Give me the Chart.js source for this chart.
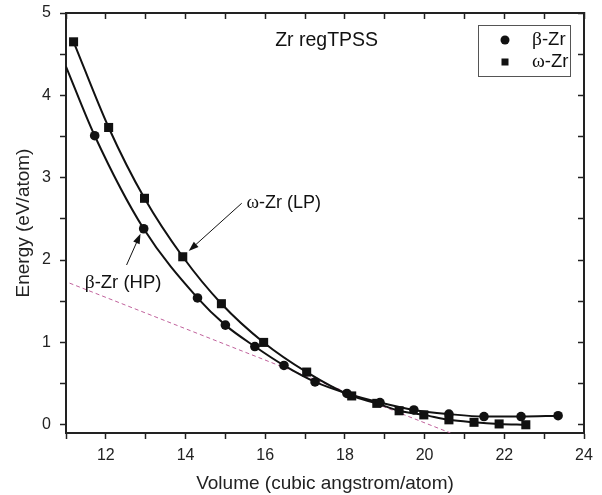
<!DOCTYPE html>
<html lang="en">
<head>
<meta charset="UTF-8">
<title>Zr regTPSS</title>
<script src="https://cdn.jsdelivr.net/npm/chart.js"></script>
<style>
  body { margin: 0; background: #fff; }
  #wrap { width: 602px; height: 495px; }
</style>
</head>
<body>
<div id="wrap"><canvas id="grafico" width="602" height="495"></canvas></div>
<script>
// beta-Zr (circles)
var betaV = [11.72, 12.95, 14.30, 15.00, 15.74, 16.47, 17.25, 18.05, 18.88, 19.73, 20.61, 21.49, 22.42, 23.35];
var betaE = [3.51, 2.38, 1.54, 1.21, 0.95, 0.72, 0.52, 0.38, 0.27, 0.18, 0.13, 0.10, 0.10, 0.11];
// omega-Zr (squares)
var omegaV = [11.19, 12.07, 12.97, 13.93, 14.90, 15.96, 17.04, 18.17, 18.80, 19.36, 19.98, 20.61, 21.24, 21.87, 22.54];
var omegaE = [4.65, 3.61, 2.75, 2.04, 1.47, 1.00, 0.64, 0.35, 0.26, 0.17, 0.12, 0.06, 0.03, 0.01, 0.00];
// fitted beta curve starts at the left axis
var betaCurveV = [11.0].concat(betaV);
var betaCurveE = [4.35].concat(betaE);
// dashed common tangent
var tangentV = [11.09, 20.65];
var tangentE = [1.72, -0.10];

var xTicks = [11, 12, 13, 14, 15, 16, 17, 18, 19, 20, 21, 22, 23, 24];
var xLabels = [12, 14, 16, 18, 20, 22, 24];
var yTicks = [0, 0.5, 1, 1.5, 2, 2.5, 3, 3.5, 4, 4.5, 5];
var yLabels = [0, 1, 2, 3, 4, 5];

function pares(vs, es) {
  var out = [];
  for (var i = 0; i < vs.length; i++) out.push({ x: vs[i], y: es[i] });
  return out;
}

var sans = '"Liberation Sans", Arial, sans-serif';
var serif = '"Liberation Serif", "Times New Roman", serif';
var corEixo = '#222';

// text with greek letters in serif, rest in sans
function textoMisto(ctx, partes, x, y, size) {
  var cx = x;
  ctx.textBaseline = 'middle';
  ctx.textAlign = 'left';
  for (var i = 0; i < partes.length; i++) {
    var p = partes[i];
    ctx.font = (p.g ? (size + 1) + 'px ' + serif : size + 'px ' + sans);
    ctx.fillText(p.t, cx, y);
    cx += ctx.measureText(p.t).width;
  }
}

function seta(ctx, x1, y1, x2, y2) {
  var ang = Math.atan2(y2 - y1, x2 - x1);
  var L = 10, W = 3.5;
  ctx.beginPath();
  ctx.moveTo(x1, y1);
  ctx.lineTo(x2 - L * 0.6 * Math.cos(ang), y2 - L * 0.6 * Math.sin(ang));
  ctx.lineWidth = 1;
  ctx.stroke();
  ctx.beginPath();
  ctx.moveTo(x2, y2);
  ctx.lineTo(x2 - L * Math.cos(ang) + W * Math.sin(ang), y2 - L * Math.sin(ang) - W * Math.cos(ang));
  ctx.lineTo(x2 - L * Math.cos(ang) - W * Math.sin(ang), y2 - L * Math.sin(ang) + W * Math.cos(ang));
  ctx.closePath();
  ctx.fill();
}

var anotacoes = {
  id: 'anotacoes',
  afterDatasetsDraw: function (chart) {
    var ctx = chart.ctx;
    var sx = chart.scales.x, sy = chart.scales.y;
    var px = function (v) { return sx.getPixelForValue(v); };
    var py = function (e) { return sy.getPixelForValue(e); };
    ctx.save();
    ctx.fillStyle = '#111';
    ctx.strokeStyle = '#111';

    textoMisto(ctx, [{ t: 'Zr regTPSS' }], px(16.25), py(4.67), 19.5);
    textoMisto(ctx, [{ t: 'ω', g: true }, { t: '-Zr (LP)' }], px(15.53), py(2.69), 18);
    textoMisto(ctx, [{ t: 'β', g: true }, { t: '-Zr (HP)' }], px(11.47), py(1.72), 18.5);

    seta(ctx, px(15.41), py(2.69), px(14.08), py(2.11));
    seta(ctx, px(12.52), py(1.94), px(12.87), py(2.32));

    // legend box
    var bx = 478.5, by = 25.5, bw = 92, bh = 51;
    ctx.fillStyle = '#fff';
    ctx.fillRect(bx, by, bw, bh);
    ctx.strokeStyle = '#555';
    ctx.lineWidth = 1;
    ctx.strokeRect(bx, by, bw, bh);
    ctx.fillStyle = '#111';
    ctx.beginPath();
    ctx.arc(505, 40, 4.5, 0, Math.PI * 2);
    ctx.fill();
    ctx.fillRect(501.5, 58.5, 7, 7);
    textoMisto(ctx, [{ t: 'β', g: true }, { t: '-Zr' }], 532, 40, 18.5);
    textoMisto(ctx, [{ t: 'ω', g: true }, { t: '-Zr' }], 532, 62, 18.5);
    ctx.restore();
  }
};

function semMargem(s) {
  s.paddingTop = 0; s.paddingBottom = 0; s.paddingLeft = 0; s.paddingRight = 0;
}

function eixoX(pos, mostrar) {
  return {
    type: 'linear', position: pos, min: 11, max: 24,
    afterBuildTicks: function (s) { s.ticks = xTicks.map(function (v) { return { value: v }; }); },
    afterFit: function (s) { s.height = pos === 'bottom' ? 62 : 13; semMargem(s); },
    grid: { drawOnChartArea: false, tickLength: pos === 'bottom' ? 6 : -6, tickColor: corEixo, tickWidth: 1.5 },
    border: { color: corEixo, width: 2 },
    ticks: {
      display: mostrar, color: corEixo, padding: mostrar ? 7 : 0, maxRotation: 0, autoSkip: false,
      font: { family: sans, size: 16 },
      callback: function (v) { return xLabels.indexOf(v) >= 0 ? String(v) : ''; }
    },
    title: {
      display: mostrar, text: 'Volume (cubic angstrom/atom)', color: corEixo,
      font: { family: sans, size: 19 }, padding: { top: 6, bottom: 0 }
    }
  };
}

function eixoY(pos, mostrar) {
  return {
    type: 'linear', position: pos, min: -0.1, max: 5,
    afterBuildTicks: function (s) { s.ticks = yTicks.map(function (v) { return { value: v }; }); },
    afterFit: function (s) { s.width = pos === 'left' ? 66 : 18; semMargem(s); },
    grid: { drawOnChartArea: false, tickLength: pos === 'left' ? 6 : -6, tickColor: corEixo, tickWidth: 1.5 },
    border: { color: corEixo, width: 2 },
    ticks: {
      display: mostrar, color: corEixo, padding: mostrar ? 9 : 0, autoSkip: false,
      font: { family: sans, size: 16 },
      callback: function (v) { return yLabels.indexOf(v) >= 0 ? String(v) : ''; }
    },
    title: {
      display: mostrar, text: 'Energy (eV/atom)', color: corEixo,
      font: { family: sans, size: 19 }, padding: { top: 12, bottom: 4 }
    }
  };
}

var config = {
  type: 'scatter',
  data: {
    datasets: [
      {
        label: 'β-Zr', data: pares(betaV, betaE), showLine: false,
        pointStyle: 'circle', pointRadius: 4.8, pointBackgroundColor: '#111', pointBorderWidth: 0
      },
      {
        label: 'ω-Zr', data: pares(omegaV, omegaE), showLine: false,
        pointStyle: 'rect', pointRadius: 6.4, pointBackgroundColor: '#111', pointBorderWidth: 0
      },
      {
        label: 'β fit', data: pares(betaCurveV, betaCurveE), showLine: true,
        borderColor: '#111', borderWidth: 2, pointRadius: 0, cubicInterpolationMode: 'monotone'
      },
      {
        label: 'ω fit', data: pares(omegaV, omegaE), showLine: true,
        borderColor: '#111', borderWidth: 2, pointRadius: 0, cubicInterpolationMode: 'monotone'
      },
      {
        label: 'tangent', data: pares(tangentV, tangentE), showLine: true,
        borderColor: '#c0629c', borderWidth: 1, borderDash: [4, 3], pointRadius: 0
      }
    ]
  },
  options: {
    responsive: false,
    animation: false,
    layout: { padding: 0 },
    plugins: { legend: { display: false }, tooltip: { enabled: false } },
    scales: {
      x: eixoX('bottom', true),
      x2: eixoX('top', false),
      y: eixoY('left', true),
      y2: eixoY('right', false)
    }
  },
  plugins: [anotacoes]
};

new Chart(document.getElementById('grafico'), config);
</script>
</body>
</html>
